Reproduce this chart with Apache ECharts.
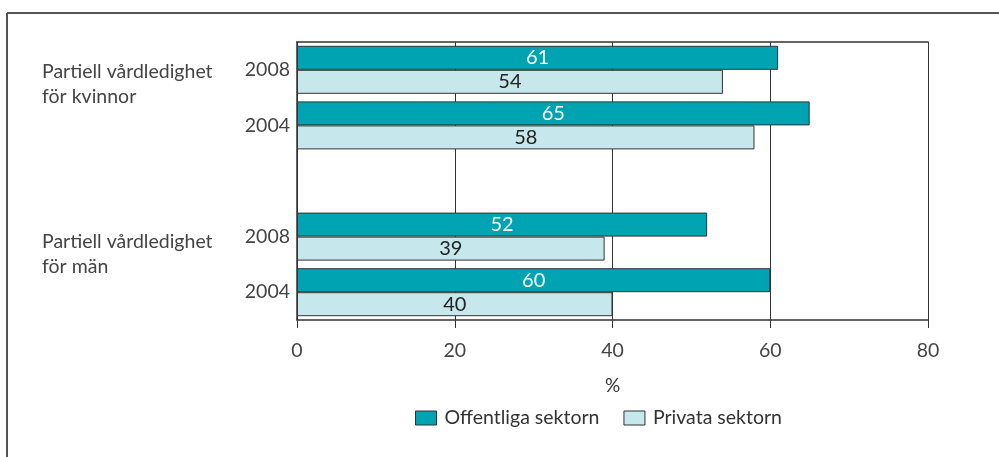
<!DOCTYPE html>
<html><head><meta charset="utf-8">
<script src="https://cdn.jsdelivr.net/npm/echarts@6/dist/echarts.min.js"></script>
<style>html,body{margin:0;padding:0;background:#fff}#c{width:999px;height:457px}</style>
</head><body><div id="c"></div>
<script>
const categories = ['2008', '2004', '', '2008', '2004'];
const groupLabels = ['Partiell vårdledighet\nför kvinnor', 'Partiell vårdledighet\nför män'];
const offentliga = [61, 65, null, 52, 60];
const privata = [54, 58, null, 39, 40];
const seriesNames = ['Offentliga sektorn', 'Privata sektorn'];
const xTicks = [0, 20, 40, 60, 80];

const FONT = 'Lato';
const chart = echarts.init(document.getElementById('c'));
chart.setOption({
  animation: false,
  textStyle: { fontFamily: FONT },
  grid: { left: 297, right: 71, top: 42, bottom: 137 },
  legend: {
    left: 410, top: 403, icon: 'rect',
    itemWidth: 21, itemHeight: 14, itemGap: 24,
    itemStyle: { borderColor: '#333', borderWidth: 1 },
    textStyle: { fontFamily: FONT, fontSize: 19.5, color: '#333', padding: [0, 0, 0, 3] },
    data: seriesNames
  },
  xAxis: [{
    type: 'value', min: xTicks[0], max: xTicks[xTicks.length - 1], interval: 20,
    name: '%', nameLocation: 'middle', nameGap: 56,
    nameTextStyle: { fontFamily: FONT, fontSize: 19, color: '#333' },
    axisLine: { show: true, lineStyle: { color: '#333', width: 1.5 } },
    axisTick: { show: true, length: 8, lineStyle: { color: '#333' } },
    axisLabel: { fontFamily: FONT, fontSize: 19.5, color: '#444', margin: 21 },
    splitLine: { show: true, lineStyle: { color: '#333', width: 1 } }
  }, {
    type: 'value', position: 'top', min: 0, max: 80,
    axisLine: { show: true, lineStyle: { color: '#333', width: 1.5 } },
    axisTick: { show: false }, axisLabel: { show: false }, splitLine: { show: false }
  }],
  yAxis: {
    type: 'category', inverse: true, data: categories,
    axisLine: { show: true, lineStyle: { color: '#333', width: 1.5 } },
    axisTick: { show: false },
    axisLabel: { fontFamily: FONT, fontSize: 19.5, color: '#444', margin: 7 }
  },
  series: [{
    name: seriesNames[0], type: 'bar', data: offentliga, barWidth: 24, barGap: '0%',
    itemStyle: { color: '#00A3B1', borderColor: '#333', borderWidth: 1 },
    label: { show: true, position: 'inside', color: '#fff', fontFamily: FONT, fontSize: 20, fontWeight: 'normal' }
  }, {
    name: seriesNames[1], type: 'bar', data: privata, barWidth: 24, barGap: '0%',
    itemStyle: { color: '#C6E7EC', borderColor: '#333', borderWidth: 1 },
    label: { show: true, position: 'inside', color: '#222', fontFamily: FONT, fontSize: 20, fontWeight: 'normal' }
  }],
  graphic: [
    { type: 'line', shape: { x1: 7, y1: 13, x2: 999, y2: 13 }, style: { stroke: '#555', lineWidth: 2 } },
    { type: 'line', shape: { x1: 7, y1: 13, x2: 7, y2: 457 }, style: { stroke: '#555', lineWidth: 2 } },
    { type: 'text', left: 42, top: 59, style: { text: groupLabels[0], font: '19.5px ' + FONT, fill: '#444', lineHeight: 25 } },
    { type: 'text', left: 42, top: 229, style: { text: groupLabels[1], font: '19.5px ' + FONT, fill: '#444', lineHeight: 25 } }
  ]
});
</script></body></html>
